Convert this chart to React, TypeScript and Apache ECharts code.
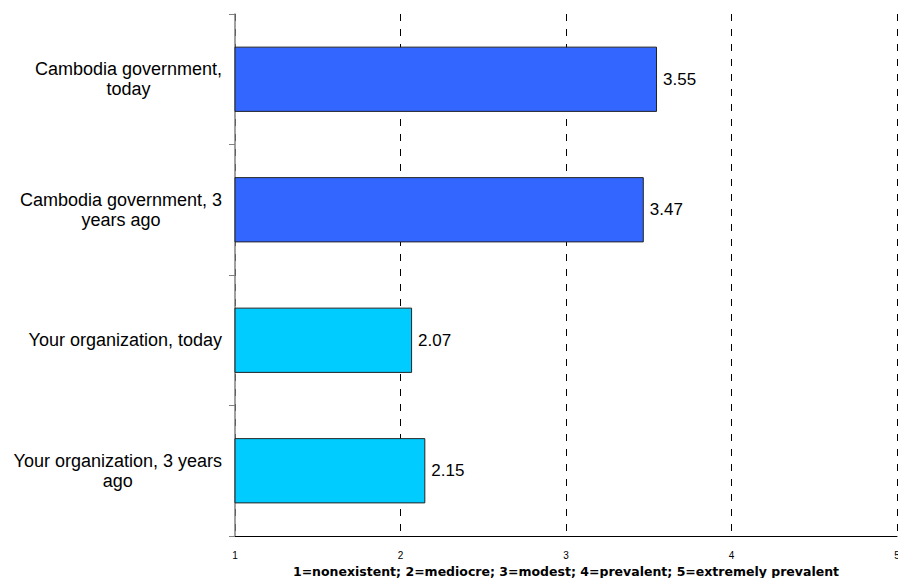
import React, { useEffect, useRef } from "react";
import * as echarts from "echarts";

const categories = [
  "Cambodia government,\ntoday",
  "Cambodia government, 3\nyears ago",
  "Your organization, today",
  "Your organization, 3 years\nago",
];
const values = [3.55, 3.47, 2.07, 2.15];
const barColors = ["#3366FF", "#3366FF", "#00CCFF", "#00CCFF"];
const xTicks = [1, 2, 3, 4, 5];
const xAxisName =
  "1=nonexistent; 2=mediocre; 3=modest; 4=prevalent; 5=extremely prevalent";

const FONT = "'Liberation Sans', Arial, Helvetica, sans-serif";

export default function App() {
  const ref = useRef<HTMLDivElement>(null);
  useEffect(() => {
    if (!ref.current) return;
    const chart = echarts.init(ref.current, undefined, { renderer: "svg" });
    chart.setOption({
      animation: false,
      backgroundColor: "#ffffff",
      textStyle: { fontFamily: FONT },
      grid: {
        left: 235,
        right: 1,
        top: 14,
        bottom: 42,
        containLabel: false,
        outerBoundsMode: "none",
      },
      xAxis: {
        type: "value",
        min: xTicks[0],
        max: xTicks[xTicks.length - 1],
        interval: 1,
        axisLine: { show: true, lineStyle: { color: "#000", width: 1 } },
        axisTick: { show: false },
        axisLabel: { fontSize: 10, color: "#000", margin: 14, fontFamily: FONT },
        splitLine: {
          show: true,
          lineStyle: { color: "#000", width: 1, type: [7, 8] },
        },
        name: xAxisName,
        nameLocation: "middle",
        nameGap: 28,
        nameTextStyle: {
          fontSize: 12.5,
          fontWeight: "bold",
          color: "#000",
          fontFamily: "'DejaVu Sans', sans-serif",
        },
      },
      yAxis: {
        type: "category",
        inverse: true,
        data: categories,
        axisLine: { show: true, lineStyle: { color: "#808080", width: 1.5 } },
        axisTick: { show: true, length: 6, lineStyle: { color: "#808080" } },
        axisLabel: {
          color: "#000",
          fontSize: 18,
          margin: 13,
          lineHeight: 20,
          fontFamily: FONT,
          formatter: (v: string) =>
            v
              .split("\n")
              .map((l) => `{c|${l}}`)
              .join("\n"),
          rich: {
            c: {
              align: "center",
              fontSize: 18,
              lineHeight: 20,
              color: "#000",
              fontFamily: FONT,
            },
          },
        },
        splitLine: { show: false },
      },
      series: [
        {
          type: "bar",
          barWidth: "50%",
          data: values.map((v, i) => ({
            value: v,
            itemStyle: { color: barColors[i] },
          })),
          itemStyle: { borderColor: "#222", borderWidth: 1 },
          label: {
            show: true,
            position: "right",
            distance: 6,
            fontSize: 17,
            color: "#000",
            fontFamily: FONT,
            formatter: (p: any) => Number(p.value).toFixed(2),
          },
        },
      ],
    });
    return () => chart.dispose();
  }, []);
  return (
    <div
      ref={ref}
      style={{
        position: "absolute",
        left: 0,
        top: 0,
        width: 898,
        height: 578,
        background: "#fff",
      }}
    />
  );
}
